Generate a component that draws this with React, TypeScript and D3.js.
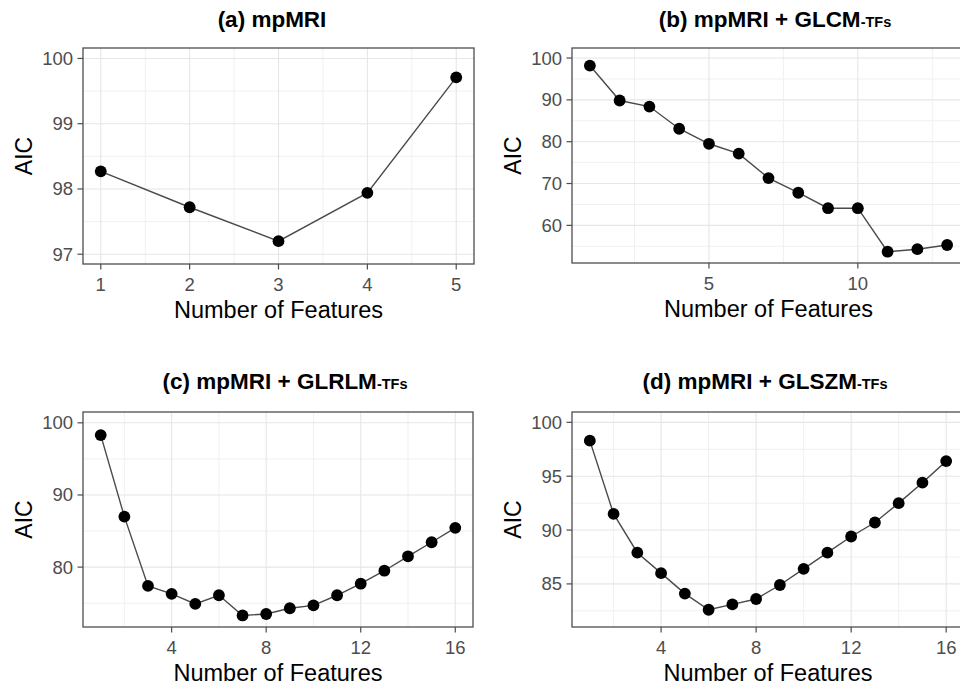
import React from "react";
import * as d3 from "d3";

// number of features per model
const featuresA = [1, 2, 3, 4, 5];
const featuresB = [1, 2, 3, 4, 5, 6, 7, 8, 9, 10, 11, 12, 13];
const featuresC = [1, 2, 3, 4, 5, 6, 7, 8, 9, 10, 11, 12, 13, 14, 15, 16];
const featuresD = [1, 2, 3, 4, 5, 6, 7, 8, 9, 10, 11, 12, 13, 14, 15, 16];

// AIC values
const aicMpmri = [98.27, 97.72, 97.2, 97.94, 99.71];
const aicGlcm = [98.2, 89.85, 88.4, 83.1, 79.5, 77.15, 71.3, 67.8, 64.1, 64.1, 53.7, 54.3, 55.3];
const aicGlrlm = [98.3, 87.0, 77.4, 76.3, 74.9, 76.1, 73.3, 73.5, 74.3, 74.7, 76.1, 77.7, 79.5, 81.5, 83.45, 85.45];
const aicGlszm = [98.3, 91.5, 87.9, 86.0, 84.1, 82.6, 83.1, 83.6, 84.9, 86.4, 87.9, 89.4, 90.7, 92.5, 94.4, 96.4];

// tick labels
const xTicksA = [1, 2, 3, 4, 5];
const xTicksB = [5, 10];
const xTicksCD = [4, 8, 12, 16];
const yTicksA = [97, 98, 99, 100];
const yTicksB = [60, 70, 80, 90, 100];
const yTicksC = [80, 90, 100];
const yTicksD = [85, 90, 95, 100];

const FONT = "'Liberation Sans', Arial, Helvetica, sans-serif";

const panels = [
  {
    key: "a", title: "(a) mpMRI", sub: "", titleX: 272, titleY: 27,
    left: 83, top: 48, width: 391, height: 216,
    xDomain: [0.8, 5.2], yDomain: [96.85, 100.16],
    xs: featuresA, ys: aicMpmri, xTicks: xTicksA, yTicks: yTicksA, xStep: 1, yStep: 1,
  },
  {
    key: "b", title: "(b) mpMRI + GLCM", sub: "-TFs", titleX: 775, titleY: 27,
    left: 572, top: 48, width: 393, height: 215,
    xDomain: [0.4, 13.6], yDomain: [51.0, 102.4],
    xs: featuresB, ys: aicGlcm, xTicks: xTicksB, yTicks: yTicksB, xStep: 5, yStep: 10,
  },
  {
    key: "c", title: "(c) mpMRI + GLRLM", sub: "-TFs", titleX: 285, titleY: 389,
    left: 83, top: 412, width: 390, height: 215,
    xDomain: [0.25, 16.75], yDomain: [71.7, 101.5],
    xs: featuresC, ys: aicGlrlm, xTicks: xTicksCD, yTicks: yTicksC, xStep: 4, yStep: 10,
  },
  {
    key: "d", title: "(d) mpMRI + GLSZM", sub: "-TFs", titleX: 765, titleY: 389,
    left: 572, top: 412, width: 392, height: 215,
    xDomain: [0.25, 16.75], yDomain: [81.0, 100.96],
    xs: featuresD, ys: aicGlszm, xTicks: xTicksCD, yTicks: yTicksD, xStep: 4, yStep: 5,
  },
];

// minor grid sits halfway between major breaks
function minors(ticks: number[], step: number, domain: number[]) {
  const out: number[] = [];
  for (let v = ticks[0] - step * Math.ceil((ticks[0] - domain[0]) / step) - step / 2; v <= domain[1]; v += step) {
    if (v >= domain[0] && v <= domain[1]) out.push(v);
  }
  return out;
}

function Panel({ p }: { p: any }) {
  const x = d3.scaleLinear().domain(p.xDomain).range([p.left, p.left + p.width]);
  const y = d3.scaleLinear().domain(p.yDomain).range([p.top + p.height, p.top]);
  const minorX = minors(p.xTicks, p.xStep, p.xDomain);
  const minorY = minors(p.yTicks, p.yStep, p.yDomain);
  const pts = p.xs.map((v: number, i: number) => [v, p.ys[i]]);
  const line = d3.line<number[]>().x((d) => x(d[0])).y((d) => y(d[1]));
  const bottom = p.top + p.height;
  const right = p.left + p.width;

  return (
    <g>
      <text x={p.titleX} y={p.titleY} textAnchor="middle" fontFamily={FONT} fontWeight="bold" fontSize={22.5} fill="#000">
        {p.title}
        {p.sub ? <tspan fontSize={14.5}>{p.sub}</tspan> : null}
      </text>
      <rect x={p.left} y={p.top} width={p.width} height={p.height} fill="#fff" />
      {minorX.map((v) => (
        <line key={"mx" + v} x1={x(v)} x2={x(v)} y1={p.top} y2={bottom} stroke="#f0f0f0" strokeWidth={1} />
      ))}
      {minorY.map((v) => (
        <line key={"my" + v} x1={p.left} x2={right} y1={y(v)} y2={y(v)} stroke="#f0f0f0" strokeWidth={1} />
      ))}
      {p.xTicks.map((v: number) => (
        <line key={"gx" + v} x1={x(v)} x2={x(v)} y1={p.top} y2={bottom} stroke="#e6e6e6" strokeWidth={1.1} />
      ))}
      {p.yTicks.map((v: number) => (
        <line key={"gy" + v} x1={p.left} x2={right} y1={y(v)} y2={y(v)} stroke="#e6e6e6" strokeWidth={1.1} />
      ))}
      <path d={line(pts) || ""} fill="none" stroke="#4a4a4a" strokeWidth={1.4} />
      {pts.map((d: number[], i: number) => (
        <circle key={"pt" + i} cx={x(d[0])} cy={y(d[1])} r={5.9} fill="#000" />
      ))}
      <rect x={p.left} y={p.top} width={p.width} height={p.height} fill="none" stroke="#4d4d4d" strokeWidth={1.3} />
      {p.xTicks.map((v: number) => (
        <g key={"xt" + v}>
          <line x1={x(v)} x2={x(v)} y1={bottom} y2={bottom + 5.5} stroke="#4d4d4d" strokeWidth={1.2} />
          <text x={x(v)} y={bottom + 27} textAnchor="middle" fontFamily={FONT} fontSize={18.5} fill="#4d4d4d">{v}</text>
        </g>
      ))}
      {p.yTicks.map((v: number) => (
        <g key={"yt" + v}>
          <line x1={p.left - 5.5} x2={p.left} y1={y(v)} y2={y(v)} stroke="#4d4d4d" strokeWidth={1.2} />
          <text x={p.left - 10} y={y(v)} dy="0.35em" textAnchor="end" fontFamily={FONT} fontSize={18.5} fill="#4d4d4d">{v}</text>
        </g>
      ))}
      <text x={p.left + p.width / 2} y={bottom + 54} textAnchor="middle" fontFamily={FONT} fontSize={23.5} fill="#000">
        Number of Features
      </text>
      <text transform={`translate(${p.left - 51},${p.top + p.height / 2}) rotate(-90)`} textAnchor="middle" fontFamily={FONT} fontSize={23} fill="#000">
        AIC
      </text>
    </g>
  );
}

export default function App() {
  return (
    <svg width={960} height={690} style={{ position: "absolute", left: 0, top: 0, background: "#fff" }}>
      <rect width={960} height={690} fill="#fff" />
      {panels.map((p) => (
        <Panel key={p.key} p={p} />
      ))}
    </svg>
  );
}
